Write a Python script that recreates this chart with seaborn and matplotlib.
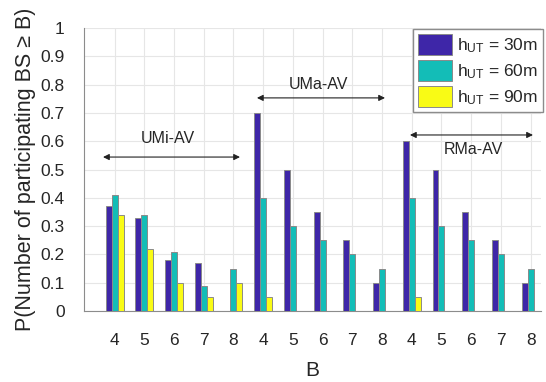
import matplotlib
matplotlib.use("Agg")
import matplotlib.pyplot as plt
import seaborn as sns
import pandas as pd

# ---- data ----
scenarios = ["UMi-AV", "UMa-AV", "RMa-AV"]
b_values = [4, 5, 6, 7, 8]
heights = ["30m", "60m", "90m"]

umi_30 = [0.37, 0.33, 0.18, 0.17, 0.00]
umi_60 = [0.41, 0.34, 0.21, 0.09, 0.15]
umi_90 = [0.34, 0.22, 0.10, 0.05, 0.10]
uma_30 = [0.70, 0.50, 0.35, 0.25, 0.10]
uma_60 = [0.40, 0.30, 0.25, 0.20, 0.15]
uma_90 = [0.05, 0.00, 0.00, 0.00, 0.00]
rma_30 = [0.60, 0.50, 0.35, 0.25, 0.10]
rma_60 = [0.40, 0.30, 0.25, 0.20, 0.15]
rma_90 = [0.05, 0.00, 0.00, 0.00, 0.00]

series = {
    "UMi-AV": [umi_30, umi_60, umi_90],
    "UMa-AV": [uma_30, uma_60, uma_90],
    "RMa-AV": [rma_30, rma_60, rma_90],
}

rows = []
for sc in scenarios:
    for hi, h in enumerate(heights):
        for bi, b in enumerate(b_values):
            rows.append({"cat": f"{sc}-{b}", "h": h, "p": series[sc][hi][bi]})
df = pd.DataFrame(rows)
order = [f"{sc}-{b}" for sc in scenarios for b in b_values]
tick_labels = [str(b) for sc in scenarios for b in b_values]

colors = ["#3E26A8", "#13BDB7", "#F9FB15"]

# ---- plot ----
sns.set_theme(style="white")
plt.rcParams["font.family"] = ["Liberation Sans", "DejaVu Sans"]
plt.rcParams["mathtext.default"] = "regular"

fig = plt.figure(figsize=(5.46, 3.82), dpi=100)
ax = fig.add_axes([84 / 546, 1 - 311 / 382, (540.7 - 84) / 546, (311 - 28) / 382])

sns.barplot(data=df, x="cat", y="p", hue="h", order=order, hue_order=heights,
            palette=colors, width=0.6, gap=0, edgecolor="#8a8a8a", linewidth=0.7,
            saturation=1, ax=ax, zorder=3)

ax.set_xlim(-1.03, 14.34)
ax.set_ylim(0, 1)
ax.set_yticks([i / 10 for i in range(11)])
ax.set_yticklabels(["0"] + [f"{i/10:.1f}" for i in range(1, 10)] + ["1"])
ax.set_xticks(range(len(order)))
ax.set_xticklabels(tick_labels)

ax.grid(True, color="#e6e6e6", linewidth=0.8, zorder=0)
ax.set_axisbelow(True)
for s in ["top", "right"]:
    ax.spines[s].set_visible(False)
for s in ["left", "bottom"]:
    ax.spines[s].set_color("#8c8c8c")
    ax.spines[s].set_linewidth(0.8)
ax.tick_params(axis="both", direction="out", length=7, width=0.8, color="#8c8c8c",
               labelsize=12.5, labelcolor="#262626")
ax.tick_params(axis="y", pad=7)
ax.tick_params(axis="x", pad=8.5)

ax.set_xlabel("B", fontsize=15, color="#262626", labelpad=10)
ax.set_ylabel("P(Number of participating BS \u2265 B)", fontsize=15.5,
              color="#262626", labelpad=3)

# annotations
arrows = [
    ("UMi-AV", -0.39, 4.22, 0.544, 1.8, 0.61),
    ("UMa-AV", 4.79, 9.10, 0.753, 6.85, 0.80),
    ("RMa-AV", 9.94, 14.08, 0.622, 12.06, 0.569),
]
for label, x0, x1, ya, xt, yt in arrows:
    ax.annotate("", xy=(x0, ya), xytext=(x1, ya),
                arrowprops=dict(arrowstyle="<|-|>", color="#222222", lw=0.8,
                                mutation_scale=9, shrinkA=0, shrinkB=0))
    ax.text(xt, yt, label, ha="center", va="center", fontsize=11.5, color="#262626")

handles, labels = ax.get_legend_handles_labels()
ax.legend(handles, [r"$h_{UT}$ = " + h for h in heights],
          loc="upper right", bbox_to_anchor=(543 / 546, 1 - 29 / 382),
          bbox_transform=fig.transFigure, fontsize=12.5, frameon=True,
          fancybox=False, framealpha=1, edgecolor="#8c8c8c",
          handlelength=2.0, handleheight=1.45, handletextpad=0.25,
          borderpad=0.3, labelspacing=0.3, borderaxespad=0)

fig.savefig("out.png", dpi=100)
